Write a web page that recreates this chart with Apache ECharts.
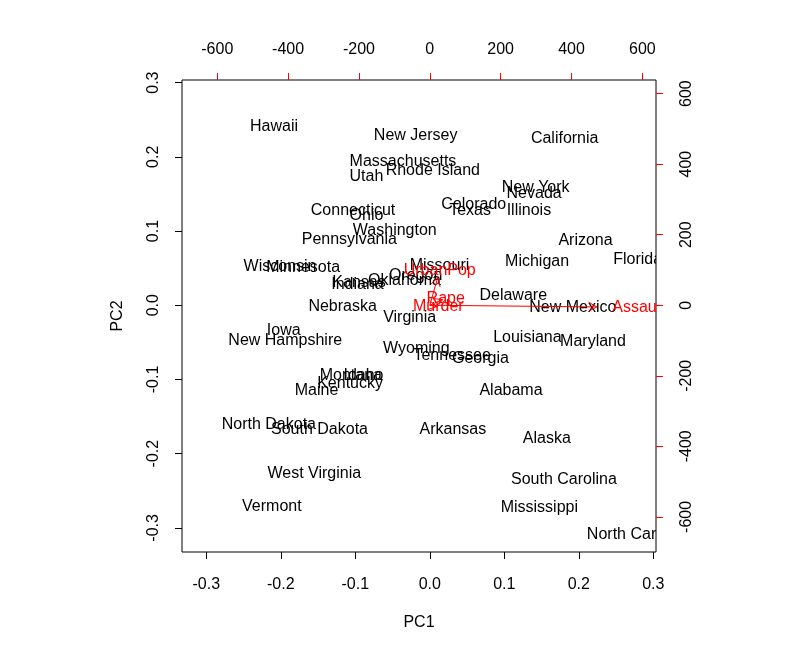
<!DOCTYPE html>
<html>
<head>
<meta charset="utf-8">
<script src="https://cdn.jsdelivr.net/npm/echarts@6/dist/echarts.min.js"></script>
<style>html,body{margin:0;padding:0;background:#fff}#c{width:800px;height:651px}</style>
</head>
<body>
<div id="c"></div>
<script>
const states = ["Alabama","Alaska","Arizona","Arkansas","California","Colorado","Connecticut","Delaware","Florida","Georgia","Hawaii","Idaho","Illinois","Indiana","Iowa","Kansas","Kentucky","Louisiana","Maine","Maryland","Massachusetts","Michigan","Minnesota","Mississippi","Missouri","Montana","Nebraska","Nevada","New Hampshire","New Jersey","New Mexico","New York","North Carolina","North Dakota","Ohio","Oklahoma","Oregon","Pennsylvania","Rhode Island","South Carolina","South Dakota","Tennessee","Texas","Utah","Vermont","Virginia","Washington","West Virginia","Wisconsin","Wyoming"];
const pc1 = [0.109,0.157,0.209,0.031,0.181,0.059,-0.103,0.112,0.279,0.068,-0.209,-0.089,0.133,-0.097,-0.196,-0.095,-0.107,0.131,-0.152,0.219,-0.036,0.144,-0.170,0.147,0.013,-0.106,-0.117,0.140,-0.194,-0.019,0.192,0.142,0.280,-0.216,-0.085,-0.034,-0.019,-0.108,0.004,0.180,-0.148,0.030,0.054,-0.085,-0.212,-0.027,-0.047,-0.155,-0.201,-0.018];
const pc2 = [-0.115,-0.180,0.087,-0.167,0.224,0.136,0.128,0.013,0.062,-0.072,0.241,-0.095,0.128,0.028,-0.034,0.031,-0.106,-0.043,-0.115,-0.049,0.193,0.059,0.051,-0.273,0.054,-0.095,-0.002,0.150,-0.047,0.229,-0.003,0.158,-0.309,-0.161,0.121,0.033,0.040,0.089,0.181,-0.235,-0.167,-0.068,0.128,0.174,-0.272,-0.016,0.101,-0.227,0.052,-0.058];
const variables = ["Murder","Assault","UrbanPop","Rape"];
const load1 = [24, 589, 28, 45];
const load2 = [-4.5, -6, 98, 20];
const scoreTicks = [-0.3,-0.2,-0.1,0.0,0.1,0.2,0.3];
const loadTicks = [-600,-400,-200,0,200,400,600];

// R biplot limits
function urange(a){return [-Math.abs(Math.min(...a)), Math.abs(Math.max(...a))];}
const rx1 = urange(pc1), rx2 = urange(pc2);
const lim = [Math.min(rx1[0], rx2[0]), Math.max(rx1[1], rx2[1])];
const ry1 = urange(load1), ry2 = urange(load2);
const ratio = Math.max(ry1[0]/lim[0], ry1[1]/lim[1], ry2[0]/lim[0], ry2[1]/lim[1]);
const ext = 0.04*(lim[1]-lim[0]);
const sMin = lim[0]-ext, sMax = lim[1]+ext;
const lMin = sMin*ratio, lMax = sMax*ratio;

const FONT = '"Liberation Sans", Arial, Helvetica, sans-serif';
const RED = '#FF0000';

function lab(ticks, fmt, margin, rotate){
  const o = {customValues:ticks, formatter:fmt, fontSize:16, fontFamily:FONT, color:'#000', margin:margin};
  if (rotate) o.rotate = rotate;
  return o;
}
const fmtS = v=>v.toFixed(1);
const fmtL = v=>String(Math.round(v));

function scoreAxis(pos, extra){
  return Object.assign({
    type:'value', position:pos, min:sMin, max:sMax,
    axisLine:{show:false, onZero:false}, splitLine:{show:false},
    axisTick:{show:true, length:7, lineStyle:{color:'#000', width:1}, customValues:scoreTicks},
    nameLocation:'middle', nameTextStyle:{fontSize:16, fontFamily:FONT, color:'#000'}
  }, extra);
}
function loadAxis(pos, extra){
  return Object.assign({
    type:'value', position:pos, min:lMin, max:lMax,
    axisLine:{show:false, onZero:false}, splitLine:{show:false},
    axisTick:{show:true, length:7, lineStyle:{color:RED, width:1}, customValues:loadTicks}
  }, extra);
}

const chart = echarts.init(document.getElementById('c'), null, {renderer:'canvas'});
chart.setOption({
  animation:false,
  backgroundColor:'#fff',
  grid:{left:182, right:144, top:80, bottom:99, show:true, borderColor:'#000', borderWidth:1, backgroundColor:'transparent'},
  xAxis:[
    scoreAxis('bottom', {name:'PC1', nameGap:63, axisLabel:lab(scoreTicks, fmtS, 25)}),
    loadAxis('top', {axisLabel:lab(loadTicks, fmtL, 22)})
  ],
  yAxis:[
    scoreAxis('left', {name:'PC2', nameGap:56, axisLabel:lab(scoreTicks, fmtS, 20, 90)}),
    loadAxis('right', {axisLabel:lab(loadTicks, fmtL, 23, 90)})
  ],
  series:[
    {
      type:'custom', xAxisIndex:0, yAxisIndex:0, clip:true,
      data: states.map((s,i)=>[pc1[i], pc2[i]]),
      renderItem:(params, api)=>{
        const p = api.coord([api.value(0), api.value(1)]);
        return {type:'text', x:p[0], y:p[1], style:{text:states[params.dataIndex], align:'center', verticalAlign:'middle', font:'16px '+FONT, fill:'#000'}};
      }
    },
    {
      type:'custom', xAxisIndex:1, yAxisIndex:1, clip:true,
      data: variables.map((v,i)=>[load1[i], load2[i]]),
      renderItem:(params, api)=>{
        const x = api.value(0), y = api.value(1);
        const o = api.coord([0,0]);
        const t = api.coord([0.8*x, 0.8*y]);
        const l = api.coord([x, y]);
        const ang = Math.atan2(t[1]-o[1], t[0]-o[0]);
        const L = 9.6, a = Math.PI/6;
        const h1 = [t[0]-L*Math.cos(ang-a), t[1]-L*Math.sin(ang-a)];
        const h2 = [t[0]-L*Math.cos(ang+a), t[1]-L*Math.sin(ang+a)];
        const ls = {stroke:RED, lineWidth:1, fill:null};
        return {type:'group', children:[
          {type:'line', shape:{x1:o[0],y1:o[1],x2:t[0],y2:t[1]}, style:ls},
          {type:'polyline', shape:{points:[h1,t,h2]}, style:ls},
          {type:'text', x:l[0], y:l[1], style:{text:variables[params.dataIndex], align:'center', verticalAlign:'middle', font:'16px '+FONT, fill:RED}}
        ]};
      }
    }
  ]
});
</script>
</body>
</html>
